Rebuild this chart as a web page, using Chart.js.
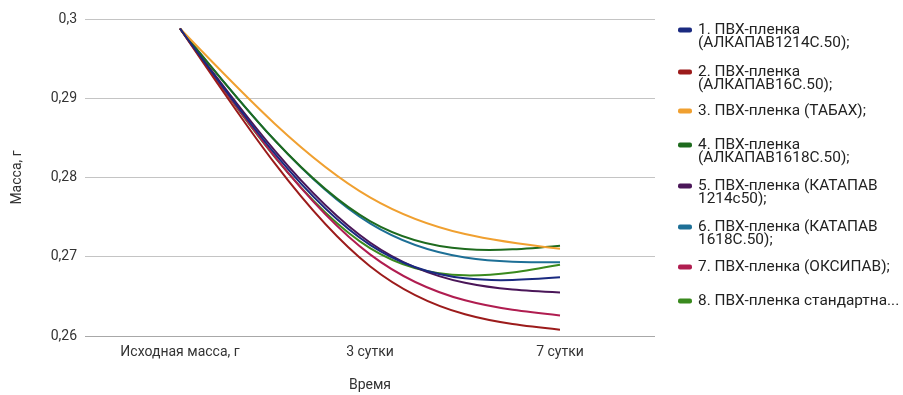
<!DOCTYPE html>
<html>
<head>
<meta charset="utf-8">
<script src="https://cdn.jsdelivr.net/npm/chart.js@4.4.1/dist/chart.umd.min.js"></script>
<style>
  html, body { margin: 0; padding: 0; background: #fff; }
  #wrap { width: 903px; height: 395px; position: relative; }
</style>
</head>
<body>
<div id="wrap"><canvas id="c" width="903" height="395"></canvas></div>
<script>
const categories = ["Исходная масса, г", "3 сутки", "7 сутки"];

const seriesNames = [
  ["1. ПВХ-пленка", "(АЛКАПАВ1214С.50);"],
  ["2. ПВХ-пленка", "(АЛКАПАВ16С.50);"],
  ["3. ПВХ-пленка (ТАБАХ);"],
  ["4. ПВХ-пленка", "(АЛКАПАВ1618С.50);"],
  ["5. ПВХ-пленка (КАТАПАВ", "1214с50);"],
  ["6. ПВХ-пленка (КАТАПАВ", "1618С.50);"],
  ["7. ПВХ-пленка (ОКСИПАВ);"],
  ["8. ПВХ-пленка стандартна..."]
];

const s1 = [0.2988, 0.2715, 0.2674];
const s2 = [0.2988, 0.2688, 0.2608];
const s3 = [0.2988, 0.2775, 0.2710];
const s4 = [0.2988, 0.2745, 0.2714];
const s5 = [0.2988, 0.2718, 0.2655];
const s6 = [0.2988, 0.2742, 0.2693];
const s7 = [0.2988, 0.2703, 0.2626];
const s8 = [0.2988, 0.2711, 0.2690];

const seriesValues = [s1, s2, s3, s4, s5, s6, s7, s8];
const seriesColors = ["#1a2a80", "#9c1b1b", "#f0a030", "#1e6b1e", "#4a1658", "#1d6f96", "#b01d50", "#3a8a1e"];

const yTicks = [0.26, 0.27, 0.28, 0.29, 0.30];
const yTitle = "Масса, г";
const xTitle = "Время";

const FONT = "Roboto, 'Noto Sans', sans-serif";

// Smooth curve through the data points (natural cubic spline control points,
// computed from the pixel positions Chart.js gives each point).
const naturalSpline = {
  id: 'naturalSpline',
  beforeDatasetDraw(chart, args) {
    const meta = args.meta;
    const pts = meta.data;
    const n = pts.length;
    if (!meta.dataset || n < 3) return;
    const xs = pts.map(p => p.x), ys = pts.map(p => p.y);
    const h = [];
    for (let i = 0; i < n - 1; i++) h[i] = xs[i + 1] - xs[i];
    const M = new Array(n).fill(0);
    const cp = [], dp = [];
    // Thomas algorithm for interior second derivatives
    const a = [], b = [], c = [], r = [];
    for (let i = 1; i < n - 1; i++) {
      a[i] = h[i - 1];
      b[i] = 2 * (h[i - 1] + h[i]);
      c[i] = h[i];
      r[i] = 6 * ((ys[i + 1] - ys[i]) / h[i] - (ys[i] - ys[i - 1]) / h[i - 1]);
    }
    for (let i = 1; i < n - 1; i++) {
      const denom = b[i] - (i > 1 ? a[i] * cp[i - 1] : 0);
      cp[i] = c[i] / denom;
      dp[i] = (r[i] - (i > 1 ? a[i] * dp[i - 1] : 0)) / denom;
    }
    for (let i = n - 2; i >= 1; i--) {
      M[i] = dp[i] - (i < n - 2 ? cp[i] * M[i + 1] : 0);
    }
    pts[0].cp1x = xs[0]; pts[0].cp1y = ys[0];
    pts[n - 1].cp2x = xs[n - 1]; pts[n - 1].cp2y = ys[n - 1];
    for (let i = 0; i < n - 1; i++) {
      const sec = (ys[i + 1] - ys[i]) / h[i];
      const d0 = sec - h[i] * (2 * M[i] + M[i + 1]) / 6;
      const d1 = sec + h[i] * (M[i] + 2 * M[i + 1]) / 6;
      pts[i].cp2x = xs[i] + h[i] / 3;
      pts[i].cp2y = ys[i] + d0 * h[i] / 3;
      pts[i + 1].cp1x = xs[i + 1] - h[i] / 3;
      pts[i + 1].cp1y = ys[i + 1] - d1 * h[i] / 3;
    }
    meta.dataset._pointsUpdated = true;
    meta.dataset._path = undefined;
  }
};

const legendPlugin = {
  id: 'sideLegend',
  afterDraw(chart) {
    const ctx = chart.ctx;
    const itemY = [30, 72, 111, 145, 186, 227, 267, 301];
    ctx.save();
    ctx.font = "14px " + FONT;
    ctx.textBaseline = 'middle';
    chart.data.datasets.forEach((ds, i) => {
      const y = itemY[i];
      ctx.fillStyle = ds.borderColor;
      ctx.beginPath();
      ctx.roundRect(678, y - 2.5, 14, 5, 2);
      ctx.fill();
      ctx.fillStyle = '#222';
      ds.legendText.forEach((t, j) => {
        ctx.save();
        ctx.translate(698, y + j * 13);
        ctx.scale(1.1, 1);
        ctx.fillText(t, 0, 0);
        ctx.restore();
      });
    });
    ctx.restore();
  }
};

new Chart(document.getElementById('c'), {
  type: 'line',
  data: {
    labels: categories,
    datasets: seriesValues.map((vals, i) => ({
      label: seriesNames[i].join(' '),
      legendText: seriesNames[i],
      data: vals,
      borderColor: seriesColors[i],
      backgroundColor: seriesColors[i],
      borderWidth: 2,
      pointRadius: 0,
      tension: 0.4,
      fill: false
    }))
  },
  options: {
    responsive: false,
    animation: false,
    layout: { padding: { top: 19, right: 248, left: 0, bottom: 0 } },
    plugins: {
      legend: { display: false },
      tooltip: { enabled: false }
    },
    scales: {
      x: {
        offset: true,
        grid: { display: false, drawTicks: false },
        border: { display: false },
        ticks: { color: '#333', font: { family: FONT, size: 14 }, padding: 8, maxRotation: 0 },
        title: { display: true, text: xTitle, color: '#333', font: { family: FONT, size: 14 }, padding: { top: 0, bottom: 1 } },
        afterFit(s) { s.height = 59; }
      },
      y: {
        min: yTicks[0],
        max: yTicks[yTicks.length - 1],
        afterBuildTicks(s) { s.ticks = yTicks.map(v => ({ value: v })); },
        grid: {
          color: ctx => (ctx.tick && Math.abs(ctx.tick.value - yTicks[0]) < 1e-9) ? '#a8a8a8' : '#c4c4c4',
          drawTicks: false,
          lineWidth: 1
        },
        border: { display: false },
        ticks: {
          color: '#333',
          font: { family: FONT, size: 14 },
          padding: 8,
          callback: v => String(Number(v.toFixed(2))).replace('.', ',')
        },
        title: { display: true, text: yTitle, color: '#333', font: { family: FONT, size: 14 }, padding: { top: 9, bottom: 0 } },
        afterFit(s) { s.width = 85; }
      }
    }
  },
  plugins: [naturalSpline, legendPlugin]
});
</script>
</body>
</html>
